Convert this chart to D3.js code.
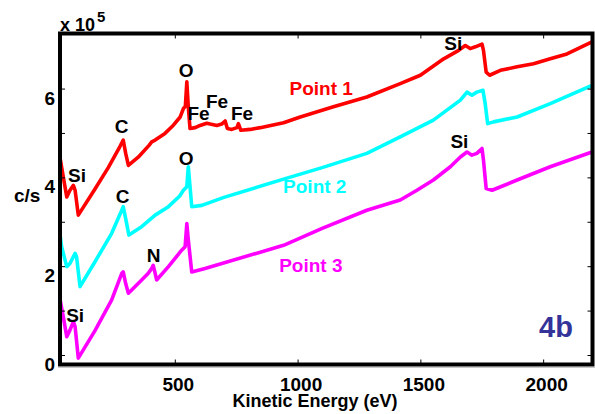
<!DOCTYPE html>
<html>
<head>
<meta charset="utf-8">
<script src="https://cdn.jsdelivr.net/npm/d3@7"></script>
<style>
  html, body { margin: 0; padding: 0; background: #fff; }
  svg { display: block; }
  text { font-family: "Liberation Sans", Arial, Helvetica, sans-serif; font-weight: bold; }
</style>
</head>
<body>
<svg id="chart" width="595" height="414"></svg>
<script>
// ---- data (counts in units of 1e5 c/s) ----
const xTickValues = [500, 1000, 1500, 2000];
const yTickValues = [0, 1, 2, 3, 4, 5, 6];
const yLabelValues = [0, 2, 4, 6];
const seriesNames = ["Point 1", "Point 2", "Point 3"];

const p1Energy = [33,46,60,73,87,94,107,175,229,277,290,300,311,352,395,406,420,460,490,522,535,543,549,555,562,583,603,630,644,671,691,705,714,732,753,759,769,807,848,943,1011,1146,1282,1418,1500,1595,1656,1683,1703,1724,1751,1757,1768,1782,1826,1894,1961,2029,2097,2199];
const p1Counts = [4.43,4.01,3.56,3.71,3.82,3.71,3.15,3.74,4.22,4.70,4.84,4.54,4.27,4.46,4.72,4.80,4.84,4.99,5.15,5.36,5.55,5.60,6.15,5.59,5.10,5.12,5.17,5.22,5.20,5.17,5.20,5.27,5.10,5.08,5.12,5.21,5.06,5.08,5.12,5.23,5.36,5.59,5.81,6.11,6.30,6.67,6.86,6.97,6.90,6.94,7.00,6.86,6.37,6.30,6.41,6.49,6.56,6.67,6.78,7.05];

const p2Energy = [33,39,60,73,94,100,114,175,243,284,290,304,313,365,420,474,520,535,549,555,562,569,610,700,943,1100,1282,1418,1553,1663,1690,1710,1730,1755,1764,1774,1798,1894,2029,2199];
const p2Counts = [2.70,2.44,1.99,2.06,2.29,2.21,1.54,2.10,2.74,3.26,3.34,2.96,2.70,2.89,3.15,3.34,3.58,3.71,3.79,4.24,3.79,3.34,3.37,3.55,3.96,4.22,4.54,4.91,5.29,5.74,5.92,5.85,5.92,5.96,5.66,5.21,5.25,5.36,5.66,6.07];

const p3Energy = [33,46,60,73,87,94,107,175,243,284,290,300,311,365,392,406,412,420,426,474,528,542,549,555,569,623,943,1100,1282,1418,1486,1553,1622,1663,1690,1710,1730,1751,1757,1768,1792,1894,2029,2199];
const p3Counts = [1.24,0.86,0.41,0.56,0.75,0.64,-0.07,0.55,1.24,1.84,1.87,1.61,1.39,1.69,1.84,1.95,2.02,1.84,1.69,1.99,2.36,2.44,2.96,2.59,1.87,1.95,2.47,2.85,3.26,3.49,3.71,3.94,4.24,4.46,4.57,4.50,4.54,4.65,4.39,3.75,3.71,3.94,4.24,4.57];

// peak annotations (energy, counts at baseline)
const peakText   = ["O","Fe","Fe","Fe","O","Si","Si","C","Si","C","N","Si"];
const peakEnergy = [546,597,672,774,546,1634,1659,283,102,287,414,94];
const peakCounts = [6.25,5.29,5.56,5.29,4.27,6.86,4.66,4.99,3.89,3.42,2.09,0.74];

// series labels
const labelEnergy = [1096,1070,1054];
const labelCounts = [5.85,3.64,1.87];

// ---- layout ----
const svg = d3.select("#chart");
const L = 60, R = 592.5, T = 33.5, B = 364.5;
const x = d3.scaleLinear().domain([32.5, 2201]).range([L, R]);
const y = d3.scaleLinear().domain([-0.214, 7.24]).range([B, T]);
const colors = ["#ff0000", "#00ffff", "#ff00ff"];

// shadow
svg.append("line").attr("x1", L - 2).attr("x2", 595).attr("y1", B + 3).attr("y2", B + 3)
  .attr("stroke", "#c8c8c8").attr("stroke-width", 1);

// curves
svg.append("defs").append("clipPath").attr("id", "clip")
  .append("rect").attr("x", L).attr("y", T).attr("width", R - L).attr("height", B - T);
const line = d3.line().x(d => x(d[0])).y(d => y(d[1]));
const series = [
  d3.zip(p1Energy, p1Counts),
  d3.zip(p2Energy, p2Counts),
  d3.zip(p3Energy, p3Counts)
];
const g = svg.append("g").attr("clip-path", "url(#clip)");
series.forEach((s, i) => {
  g.append("path").datum(s).attr("d", line)
    .attr("fill", "none").attr("stroke", colors[i])
    .attr("stroke-width", 3.6).attr("stroke-linejoin", "round").attr("stroke-linecap", "round");
});

// axes (inward ticks)
const xb = svg.append("g").attr("transform", `translate(0,${B})`)
  .call(d3.axisBottom(x).tickValues(xTickValues).tickSize(-5).tickPadding(0).tickFormat(d3.format("d")));
xb.select(".domain").remove();
xb.selectAll("line").attr("stroke", "#000").attr("stroke-width", 1);
xb.selectAll("text").attr("y", 26.5).attr("dy", 0).attr("dx", 3)
  .attr("font-size", 19).attr("fill", "#000");

const xt = svg.append("g").attr("transform", `translate(0,${T})`)
  .call(d3.axisTop(x).tickValues(xTickValues).tickSize(-5).tickFormat(""));
xt.select(".domain").remove();
xt.selectAll("line").attr("stroke", "#000");

const yl = svg.append("g").attr("transform", `translate(${L},0)`)
  .call(d3.axisLeft(y).tickValues(yTickValues).tickSize(-5).tickFormat(""));
yl.select(".domain").remove();
yl.selectAll("line").attr("stroke", "#000");
svg.append("g").selectAll("text").data(yLabelValues).join("text")
  .attr("x", 55).attr("y", d => y(d) + 16).attr("text-anchor", "end")
  .attr("font-size", 19).attr("fill", "#000").text(d => d);

const yr = svg.append("g").attr("transform", `translate(${R},0)`)
  .call(d3.axisRight(y).tickValues(yTickValues).tickSize(-5).tickFormat(""));
yr.select(".domain").remove();
yr.selectAll("line").attr("stroke", "#000");

// frame
svg.append("rect").attr("x", L).attr("y", T).attr("width", R - L).attr("height", B - T)
  .attr("fill", "none").attr("stroke", "#000").attr("stroke-width", 4);

// axis titles
svg.append("text").attr("x", 315).attr("y", 407).attr("text-anchor", "middle")
  .attr("font-size", 18).attr("fill", "#000").text("Kinetic Energy (eV)");
svg.append("text").attr("x", 14).attr("y", 202).attr("font-size", 19).attr("fill", "#000").text("c/s");
const mult = svg.append("text").attr("x", 60).attr("y", 31).attr("font-size", 18).attr("fill", "#000");
mult.append("tspan").text("x 10");
mult.append("tspan").attr("font-size", 15).attr("dy", -9).attr("dx", 2).text("5");

// peak labels
svg.append("g").selectAll("text").data(peakText).join("text")
  .attr("x", (d, i) => x(peakEnergy[i])).attr("y", (d, i) => y(peakCounts[i]))
  .attr("text-anchor", "middle").attr("font-size", 19).attr("fill", "#000").text(d => d);

// series labels
svg.append("g").selectAll("text").data(seriesNames).join("text")
  .attr("x", (d, i) => x(labelEnergy[i])).attr("y", (d, i) => y(labelCounts[i]))
  .attr("text-anchor", "middle").attr("font-size", 19).attr("fill", (d, i) => colors[i]).text(d => d);

// panel tag
svg.append("text").attr("x", 556).attr("y", 337).attr("text-anchor", "middle")
  .attr("font-size", 29).attr("fill", "#333399").text("4b");
</script>
</body>
</html>
